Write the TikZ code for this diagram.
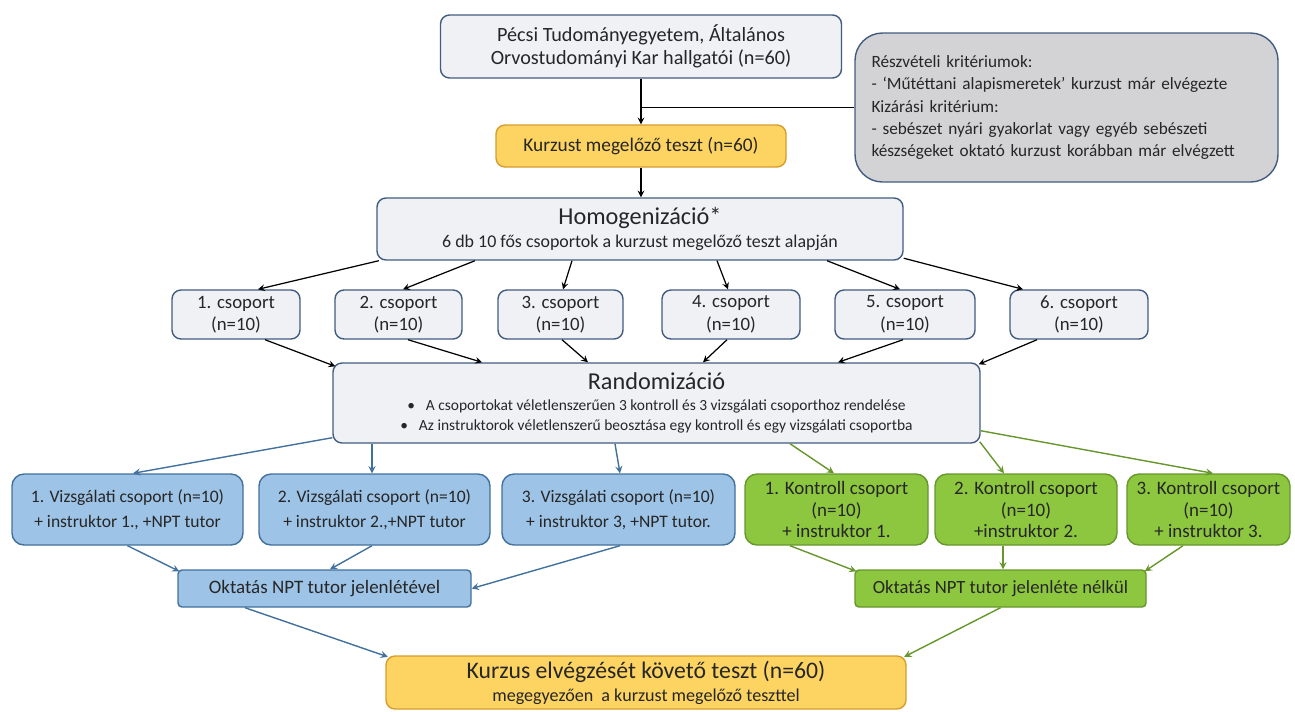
\documentclass[tikz,border=0pt]{standalone}
\usepackage{fontspec}
\setmainfont{Carlito}
\usetikzlibrary{arrows.meta, positioning, calc}

\definecolor{boxfill}{RGB}{239,241,245}
\definecolor{slate}{RGB}{66,92,128}
\definecolor{critfill}{RGB}{211,211,213}
\definecolor{yellowfill}{RGB}{253,212,98}
\definecolor{yellowline}{RGB}{214,156,44}
\definecolor{bluefill}{RGB}{157,195,230}
\definecolor{blueline}{RGB}{65,113,156}
\definecolor{greenfill}{RGB}{141,198,63}
\definecolor{greenline}{RGB}{102,150,44}
\definecolor{textgray}{RGB}{38,38,38}

\newcommand{\boxfont}[2]{\fontsize{#1}{#2}\selectfont}

\begin{document}
\begin{tikzpicture}[>=stealth,
		lightbox/.style={draw=slate, fill=boxfill, line width=0.8pt, rounded corners=0.18cm, inner sep=0pt, align=center, text=textgray},
		critbox/.style={draw=slate, fill=critfill, line width=0.8pt, rounded corners=0.55cm, inner sep=0pt, align=left, text=textgray},
		testbox/.style={draw=yellowline, fill=yellowfill, line width=0.8pt, rounded corners=0.18cm, inner sep=0pt, align=center, text=textgray},
		studybox/.style={draw=blueline, fill=bluefill, line width=0.8pt, rounded corners=0.24cm, inner sep=0pt, align=center, text=textgray},
		controlbox/.style={draw=greenline, fill=greenfill, line width=0.8pt, rounded corners=0.24cm, inner sep=0pt, align=center, text=textgray},
		groupbox/.style={lightbox, minimum height=0.98cm, font=\boxfont{10.7}{12.8}},
		flow/.style={->, line width=0.7pt, black},
		blueflow/.style={->, line width=0.8pt, blueline},
		greenflow/.style={->, line width=0.8pt, greenline}]
	
	% Keep the page size of the original
	\useasboundingbox (0,0) rectangle (25.9,-14.22);
	
	% Participants and criteria
	\node[lightbox, minimum width=8.02cm, minimum height=1.26cm, font=\boxfont{11.5}{13.3}] (hallg) at (12.82,-0.93) {Pécsi Tudományegyetem, Általános\\Orvostudományi Kar hallgatói (n=60)};
	\node[critbox, minimum width=8.46cm, minimum height=2.98cm, text width=7.8cm, font=\boxfont{9.8}{12.6}] (krit) at (21.33,-2.15) {Részvételi kritériumok:\\- ‘Műtéttani alapismeretek’ kurzust már elvégezte\\Kizárási kritérium:\\- sebészet nyári gyakorlat vagy egyéb sebészeti\\készségeket oktató kurzust korábban már elvégzett};
	
	% Pre-test and homogenisation
	\node[testbox, minimum width=5.8cm, minimum height=0.84cm, font=\boxfont{11}{13}] (elo) at (12.82,-2.92) {Kurzust megelőző teszt (n=60)};
	\node[lightbox, minimum width=10.52cm, minimum height=1.24cm, font=\boxfont{10.2}{13}] (homog) at (12.8,-4.58) {{\boxfont{13.8}{15}Homogenizáció*}\\6 db 10 fős csoportok a kurzust megelőző teszt alapján};
	
	\draw[flow] (hallg.south) -- (hallg.south |- elo.north);
	\draw[line width=0.7pt] (krit.west) -- (krit.west -| hallg.south);
	\draw[flow] (elo.south) -- (elo.south |- homog.north);
	
	% Six groups
	\node[groupbox, minimum width=2.56cm] (g1) at (4.72,-6.29) {1. csoport\\(n=10)};
	\node[groupbox, minimum width=2.54cm] (g2) at (7.97,-6.29) {2. csoport\\(n=10)};
	\node[groupbox, minimum width=2.5cm] (g3) at (11.21,-6.29) {3. csoport\\(n=10)};
	\node[groupbox, minimum width=2.76cm] (g4) at (14.62,-6.29) {4. csoport\\(n=10)};
	\node[groupbox, minimum width=2.8cm] (g5) at (18.1,-6.29) {5. csoport\\(n=10)};
	\node[groupbox, minimum width=2.76cm] (g6) at (21.58,-6.29) {6. csoport\\(n=10)};
	
	\draw[flow] ([xshift=0.05cm]homog.south west) -- ([xshift=0.44cm]g1.north);
	\draw[flow] ([xshift=-3.3cm]homog.south) -- ([xshift=0.09cm]g2.north);
	\draw[flow] ([xshift=-1.36cm]homog.south) -- ([xshift=0.05cm]g3.north);
	\draw[flow] ([xshift=1.54cm]homog.south) -- ([xshift=-0.06cm]g4.north);
	\draw[flow] ([xshift=3.74cm]homog.south) -- ([xshift=-0.1cm]g5.north);
	\draw[flow] ([yshift=0.05cm]homog.south east) -- ([xshift=-1.12cm]g6.north);
	
	% Randomisation
	\node[lightbox, minimum width=12.94cm, minimum height=1.6cm, font=\boxfont{8.8}{11}] (rand) at (13.13,-8.06) {{\boxfont{13.8}{16}Randomizáció}\\[1pt]•\hspace{0.7em}A csoportokat véletlenszerűen 3 kontroll és 3 vizsgálati csoporthoz rendelése\\•\hspace{0.7em}Az instruktorok véletlenszerű beosztása egy kontroll és egy vizsgálati csoportba};
	
	\draw[flow] ([xshift=0.58cm]g1.south) -- ([xshift=0.06cm,yshift=-0.08cm]rand.north west);
	\draw[flow] ([xshift=0.19cm]g2.south) -- ([xshift=-3.49cm]rand.north);
	\draw[flow] ([xshift=0.03cm]g3.south) -- ([xshift=-1.37cm]rand.north);
	\draw[flow] ([xshift=-0.08cm]g4.south) -- ([xshift=0.93cm]rand.north);
	\draw[flow] ([xshift=-0.04cm]g5.south) -- ([xshift=3.63cm]rand.north);
	\draw[flow] ([xshift=-0.84cm]g6.south) -- ([xshift=-0.04cm,yshift=-0.04cm]rand.north east);
	
	% Study and control arms
	\node[studybox, minimum width=4.62cm, minimum height=1.42cm, font=\boxfont{10}{14.5}] (v1) at (2.55,-10.19) {1. Vizsgálati csoport (n=10)\\+ instruktor 1., +NPT tutor};
	\node[studybox, minimum width=4.62cm, minimum height=1.42cm, font=\boxfont{10}{14.5}] (v2) at (7.49,-10.19) {2. Vizsgálati csoport (n=10)\\+ instruktor 2.,+NPT tutor};
	\node[studybox, minimum width=4.66cm, minimum height=1.42cm, font=\boxfont{10}{14.5}] (v3) at (12.37,-10.19) {3. Vizsgálati csoport (n=10)\\+ instruktor 3, +NPT tutor.};
	\node[controlbox, minimum width=3.66cm, minimum height=1.42cm, font=\boxfont{10.8}{12}] (k1) at (16.73,-10.19) {1. Kontroll csoport\\(n=10)\\+ instruktor 1.};
	\node[controlbox, minimum width=3.64cm, minimum height=1.42cm, font=\boxfont{10.8}{12}] (k2) at (20.52,-10.19) {2. Kontroll csoport\\(n=10)\\+instruktor 2.};
	\node[controlbox, minimum width=3.26cm, minimum height=1.42cm, font=\boxfont{10.8}{12}] (k3) at (24.17,-10.19) {3. Kontroll csoport\\(n=10)\\+ instruktor 3.};
	
	\draw[blueflow] ([yshift=0.12cm]rand.south west) -- ([xshift=0.11cm]v1.north);
	\draw[blueflow] ([xshift=-0.05cm]v2.north |- rand.south) -- ([xshift=-0.05cm]v2.north);
	\draw[blueflow] ([xshift=-0.83cm]rand.south) -- ([xshift=0.03cm]v3.north);
	\draw[greenflow] ([xshift=2.67cm]rand.south) -- ([xshift=-0.05cm]k1.north);
	\draw[greenflow] ([xshift=-0.02cm,yshift=0.04cm]rand.south east) -- ([xshift=-0.44cm]k2.north);
	\draw[greenflow] ([yshift=0.26cm]rand.south east) -- ([xshift=0.09cm]k3.north);
	
	% Teaching
	\node[studybox, rounded corners=0.08cm, minimum width=5.86cm, minimum height=0.74cm, font=\boxfont{10.8}{12}] (oktv) at (6.49,-11.77) {Oktatás NPT tutor jelenlétével};
	\node[controlbox, rounded corners=0.08cm, minimum width=5.82cm, minimum height=0.74cm, font=\boxfont{10.6}{12}] (oktk) at (20.01,-11.77) {Oktatás NPT tutor jelenléte nélkül};
	
	\draw[blueflow] (v1.south) -- ([xshift=0.04cm,yshift=-0.04cm]oktv.north west);
	\draw[blueflow] ([xshift=-0.05cm]v2.south) -- ([xshift=0.11cm]oktv.north);
	\draw[blueflow] ([xshift=0.03cm]v3.south) -- (oktv.east);
	\draw[greenflow] ([xshift=-0.93cm]k1.south) -- ([xshift=0.04cm,yshift=-0.04cm]oktk.north west);
	\draw[greenflow] ([xshift=0.05cm]oktk.north |- k2.south) -- ([xshift=0.05cm]oktk.north);
	\draw[greenflow] ([xshift=-0.51cm]k3.south) -- ([xshift=-0.04cm,yshift=-0.04cm]oktk.north east);
	
	% Post-test
	\node[testbox, minimum width=10.4cm, minimum height=1.06cm, font=\boxfont{10.3}{13}] (utan) at (12.92,-13.65) {{\boxfont{13.5}{15}Kurzus elvégzését követő teszt (n=60)}\\megegyezően\ \ a kurzust megelőző teszttel};
	
	\draw[blueflow] ([xshift=-1.59cm]oktv.south) -- ([xshift=0.05cm,yshift=-0.03cm]utan.north west);
	\draw[greenflow] (oktk.south) -- ([xshift=-0.05cm,yshift=-0.03cm]utan.north east);
	
\end{tikzpicture}
\end{document}
